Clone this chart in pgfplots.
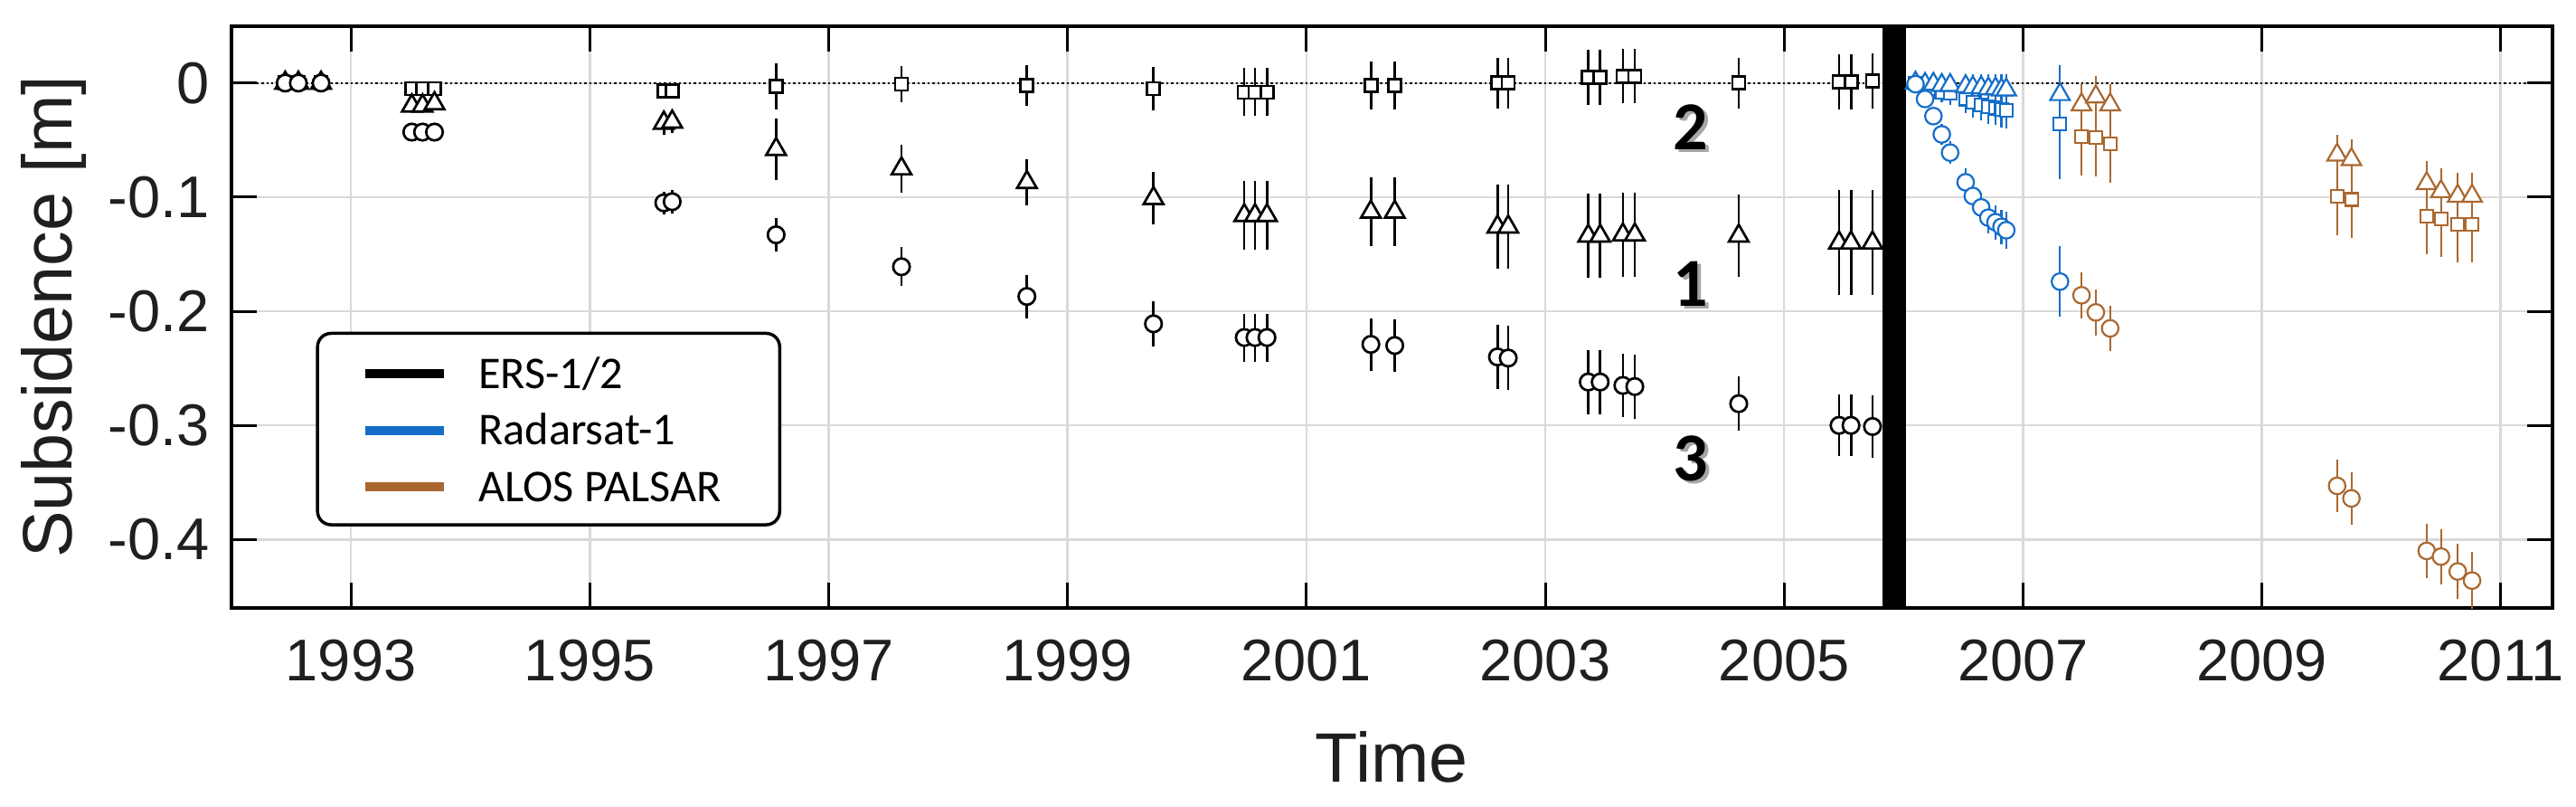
\documentclass[border=0pt]{standalone}
\usepackage{pgfplots}
\pgfplotsset{compat=1.18}
\usepackage{pgfplotstable}
\usepackage{fontspec}
\setmainfont{Liberation Sans}
\newfontfamily\carlito{Carlito}
\definecolor{rsblue}{RGB}{20,110,200}
\definecolor{alos}{RGB}{170,104,48}

% columns: date, square (s, se), triangle (t, te), circle (c, ce)
\pgfplotstableread{
x s se t te c ce
1992.45 0.000 0.004 0.000 0.004 0.000 0.004
1992.56 0.000 0.004 0.000 0.004 0.000 0.004
1992.75 0.000 0.004 0.000 0.004 0.000 0.004
1993.51 -0.005 0.004 -0.020 0.005 -0.043 0.005
1993.60 -0.005 0.004 -0.020 0.005 -0.043 0.005
1993.70 -0.005 0.004 -0.018 0.005 -0.043 0.005
1995.62 -0.007 0.005 -0.035 0.010 -0.105 0.010
1995.69 -0.007 0.005 -0.034 0.010 -0.104 0.010
1996.56 -0.003 0.020 -0.058 0.027 -0.133 0.015
1997.61 -0.001 0.016 -0.075 0.021 -0.161 0.017
1998.66 -0.002 0.018 -0.087 0.020 -0.187 0.019
1999.72 -0.005 0.019 -0.101 0.023 -0.211 0.020
2000.48 -0.008 0.021 -0.116 0.030 -0.223 0.021
2000.57 -0.008 0.021 -0.116 0.030 -0.223 0.021
2000.67 -0.008 0.021 -0.116 0.030 -0.223 0.021
2001.54 -0.002 0.021 -0.113 0.030 -0.229 0.023
2001.74 -0.002 0.021 -0.113 0.030 -0.230 0.023
2002.60 0.000 0.022 -0.126 0.037 -0.240 0.028
2002.69 0.000 0.022 -0.126 0.037 -0.241 0.028
2003.36 0.005 0.024 -0.134 0.037 -0.262 0.028
2003.46 0.005 0.024 -0.134 0.037 -0.262 0.028
2003.65 0.006 0.024 -0.133 0.037 -0.265 0.028
2003.75 0.006 0.024 -0.133 0.037 -0.266 0.028
2004.62 0.000 0.022 -0.134 0.036 -0.281 0.024
2005.46 0.001 0.024 -0.140 0.046 -0.300 0.027
2005.56 0.001 0.024 -0.140 0.046 -0.300 0.027
2005.74 0.002 0.024 -0.140 0.046 -0.301 0.027
}\ers

\pgfplotstableread{
x s se t te c ce
2006.10 0.000 0.004 0.000 0.004 -0.001 0.004
2006.18 -0.002 0.006 -0.001 0.006 -0.014 0.006
2006.25 -0.005 0.008 -0.001 0.008 -0.029 0.008
2006.32 -0.008 0.009 -0.002 0.009 -0.045 0.009
2006.39 -0.009 0.010 -0.002 0.010 -0.061 0.010
2006.52 -0.014 0.012 -0.003 0.011 -0.087 0.012
2006.58 -0.017 0.013 -0.004 0.012 -0.099 0.012
2006.65 -0.019 0.014 -0.004 0.012 -0.109 0.013
2006.71 -0.021 0.015 -0.005 0.013 -0.118 0.014
2006.77 -0.022 0.015 -0.005 0.013 -0.122 0.015
2006.82 -0.023 0.016 -0.006 0.014 -0.126 0.015
2006.86 -0.024 0.016 -0.006 0.014 -0.129 0.016
2007.31 -0.036 0.048 -0.010 0.026 -0.174 0.031
}\rsat

\pgfplotstableread{
x s se t te c ce
2007.49 -0.047 0.034 -0.019 0.018 -0.186 0.020
2007.61 -0.048 0.034 -0.012 0.018 -0.201 0.020
2007.73 -0.053 0.034 -0.019 0.018 -0.215 0.020
2009.63 -0.099 0.034 -0.063 0.018 -0.353 0.023
2009.75 -0.102 0.034 -0.067 0.018 -0.364 0.023
2010.38 -0.117 0.033 -0.088 0.020 -0.410 0.024
2010.50 -0.119 0.033 -0.095 0.020 -0.415 0.024
2010.64 -0.124 0.033 -0.099 0.020 -0.428 0.024
2010.76 -0.124 0.033 -0.099 0.020 -0.436 0.025
}\alosdata

\pgfplotsset{
  ebar/.style n args={2}{only marks, forget plot,
    mark options={solid, fill=white, draw=#1, line width=#2},
    /pgfplots/error bars/y dir=both,
    /pgfplots/error bars/y explicit,
    /pgfplots/error bars/error mark=none,
    /pgfplots/error bars/error bar style={line width=#2, #1, solid}},
  sq/.style={mark=square*, mark size=0.7mm},
  tri/.style={mark=triangle*, mark size=1.25mm},
  circ/.style={mark=*, mark size=0.92mm},
}
\tikzset{grplab/.style={font=\carlito\bfseries\fontsize{21.6}{22}\selectfont},
  grpshadow/.style={grplab, text=black!35, xshift=0.35mm, yshift=-0.35mm}}

\begin{document}
\begin{tikzpicture}
\path[use as bounding box] (0,0) rectangle (284.9mm,89.2mm);
\begin{axis}[
  at={(25.6mm,22.0mm)}, anchor=south west,
  scale only axis, width=256.65mm, height=64.33mm,
  xmin=1992, xmax=2011.43, ymin=-0.46, ymax=0.05,
  xtick={1993,1995,...,2011},
  ytick={-0.4,-0.3,-0.2,-0.1,0},
  grid=major,
  major grid style={line width=0.25mm, black!15},
  axis line style={line width=0.4mm, black},
  tick align=inside,
  major tick length=2.8mm,
  tick style={line width=0.3mm, black},
  tick label style={font=\fontsize{18.5}{20}\selectfont, text=black!88},
  xticklabel style={yshift=-2.3mm},
  yticklabel style={xshift=-1.2mm},
  /pgf/number format/assume math mode=true,
  /pgf/number format/1000 sep={},
  xlabel={Time}, ylabel={Subsidence [m]},
  label style={font=\fontsize{22}{24}\selectfont, text=black!88},
  xlabel style={at={(axis description cs:0.5,-0.2985)}, anchor=base},
  ylabel style={at={(axis description cs:-0.0764,0.5)}, anchor=center},
  legend style={
    at={(axis description cs:0.0364,0.4746)}, anchor=north west,
    draw=black, line width=0.35mm, rounded corners=1.5mm, fill=white,
    inner xsep=4.76mm, inner ysep=1.5mm,
    row sep=0.59mm,
    font=\carlito\fontsize{14.3}{16}\selectfont,
    cells={anchor=base west},
    nodes={inner sep=0pt, text height=4.6mm, text depth=1.06mm},
    /tikz/every odd column/.append style={column sep=3.35mm},
  },
]
% zero reference line
\addplot[forget plot, black, line width=0.22mm, dash pattern=on 0.25mm off 0.3mm]
  coordinates {(1992,0) (2011.43,0)};
% sensor change marker
\addplot[forget plot, black, line width=2.6mm]
  coordinates {(2005.92,-0.46) (2005.92,0.05)};

% ERS-1/2
\addplot[sq, ebar={black}{0.27mm}]   table[x=x, y=s, y error=se] {\ers};
\addplot[tri, ebar={black}{0.27mm}]  table[x=x, y=t, y error=te] {\ers};
\addplot[circ, ebar={black}{0.27mm}] table[x=x, y=c, y error=ce] {\ers};
% Radarsat-1
\addplot[sq, ebar={rsblue}{0.22mm}]   table[x=x, y=s, y error=se] {\rsat};
\addplot[tri, ebar={rsblue}{0.22mm}]  table[x=x, y=t, y error=te] {\rsat};
\addplot[circ, ebar={rsblue}{0.22mm}] table[x=x, y=c, y error=ce] {\rsat};
% ALOS PALSAR
\addplot[sq, ebar={alos}{0.22mm}]   table[x=x, y=s, y error=se] {\alosdata};
\addplot[tri, ebar={alos}{0.22mm}]  table[x=x, y=t, y error=te] {\alosdata};
\addplot[circ, ebar={alos}{0.22mm}] table[x=x, y=c, y error=ce] {\alosdata};

\addlegendimage{legend image code/.code={\draw[line width=1mm,black] (0mm,1.6mm) -- (8.7mm,1.6mm);}}
\addlegendentry{ERS-1/2}
\addlegendimage{legend image code/.code={\draw[line width=1mm,rsblue] (0mm,1.6mm) -- (8.7mm,1.6mm);}}
\addlegendentry{Radarsat-1}
\addlegendimage{legend image code/.code={\draw[line width=1mm,alos] (0mm,1.6mm) -- (8.7mm,1.6mm);}}
\addlegendentry{ALOS PALSAR\hspace*{1.7mm}}

% group labels
\node[grpshadow] at (axis cs:2004.22,-0.0387) {2};
\node[grplab]    at (axis cs:2004.22,-0.0387) {2};
\node[grpshadow] at (axis cs:2004.22,-0.176) {1};
\node[grplab]    at (axis cs:2004.22,-0.176) {1};
\node[grpshadow] at (axis cs:2004.22,-0.329) {3};
\node[grplab]    at (axis cs:2004.22,-0.329) {3};
\end{axis}
\end{tikzpicture}
\end{document}
